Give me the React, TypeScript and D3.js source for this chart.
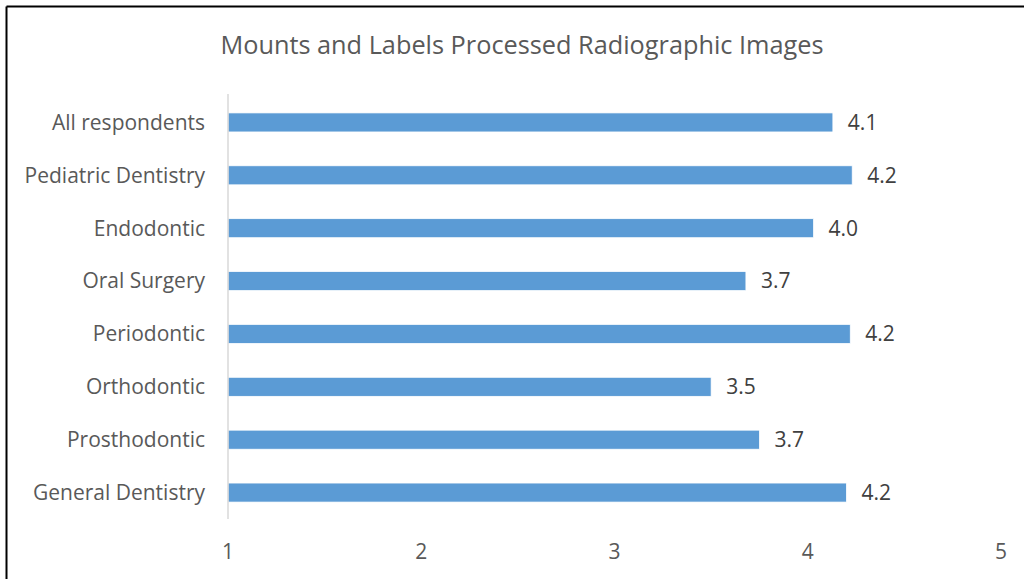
import React from "react";
import * as d3 from "d3";

const categories = [
  "All respondents",
  "Pediatric Dentistry",
  "Endodontic",
  "Oral Surgery",
  "Periodontic",
  "Orthodontic",
  "Prosthodontic",
  "General Dentistry",
];
const values = [4.13, 4.23, 4.03, 3.68, 4.22, 3.5, 3.75, 4.2];
const valueLabels = ["4.1", "4.2", "4.0", "3.7", "4.2", "3.5", "3.7", "4.2"];
const xTicks = [1, 2, 3, 4, 5];
const title = "Mounts and Labels Processed Radiographic Images";

const W = 1024;
const H = 579;
const FONT = "'Open Sans', 'Liberation Sans', sans-serif";

export default function App() {
  const x = d3.scaleLinear().domain([1, 5]).range([228, 1001]);
  const y = d3.scaleBand<string>().domain(categories).range([96, 519]).paddingInner(0.64).paddingOuter(0.32);
  const bw = y.bandwidth();
  return (
    <svg width={W} height={H} style={{ position: "absolute", left: 0, top: 0, background: "#fff" }}>
      <rect x={0} y={0} width={W} height={H} fill="#fff" />
      <line x1={6.5} y1={6.5} x2={6.5} y2={H} stroke="#000" strokeWidth={2} />
      <line x1={6.5} y1={6.5} x2={W} y2={6.5} stroke="#000" strokeWidth={2} />
      <text x={522} y={54} textAnchor="middle" fontFamily={FONT} fontSize={25.3} fill="#595959">
        {title}
      </text>
      {categories.map((c, i) => (
        <g key={c}>
          <rect
            x={x(1)}
            y={y(c)!}
            width={x(values[i]) - x(1)}
            height={bw}
            fill="#5b9bd5"
            stroke="#ffffff"
            strokeWidth={0.75}
          />
          <text
            x={x(values[i]) + 15}
            y={y(c)! + bw / 2}
            dy="0.35em"
            fontFamily={FONT}
            fontSize={21}
            fill="#404040"
          >
            {valueLabels[i]}
          </text>
          <text
            x={205}
            y={y(c)! + bw / 2}
            dy="0.35em"
            textAnchor="end"
            fontFamily={FONT}
            fontSize={21}
            fill="#595959"
          >
            {c}
          </text>
        </g>
      ))}
      <line x1={x(1)} y1={94} x2={x(1)} y2={519} stroke="#d9d9d9" strokeWidth={1.5} />
      {xTicks.map((t) => (
        <text key={t} x={x(t)} y={559} textAnchor="middle" fontFamily={FONT} fontSize={21} fill="#595959">
          {t}
        </text>
      ))}
    </svg>
  );
}
